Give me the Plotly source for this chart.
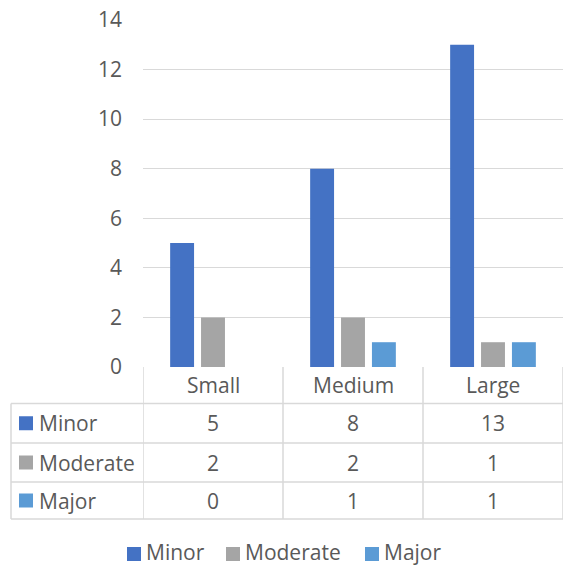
import plotly.graph_objects as go

categories = ["Small", "Medium", "Large"]
series_names = ["Minor", "Moderate", "Major"]
minor = [5, 8, 13]
moderate = [2, 2, 1]
major = [0, 1, 1]
colors = ["#4472C4", "#A5A5A5", "#5B9BD5"]
y_ticks = [0, 2, 4, 6, 8, 10, 12, 14]

series_values = [minor, moderate, major]

W, H = 563, 567
L, R, T, B = 143, 0, 20, 200
PW, PH = W - L - R, H - T - B
FONT = "Open Sans"
TXT = "#595959"
GRID = "#D9D9D9"
FS = 21


def px(x):
    return (x - L) / PW


def py(y):
    return (H - B - y) / PH


fig = go.Figure()
for name, vals, col in zip(series_names, series_values, colors):
    fig.add_trace(go.Bar(x=categories, y=vals, name=name, showlegend=False,
                         marker=dict(color=col, line=dict(width=0))))

# table geometry (pixels)
row_bounds = [367, 403.5, 443, 482, 519]
table_left = 11
col_edges = [-0.5, 0.5, 1.5, 2.5]

shapes = []
line = dict(color=GRID, width=1.5)
for i, yb in enumerate(row_bounds):
    if i == 0:
        continue
    shapes.append(dict(type="line", xref="paper", yref="paper", x0=px(table_left), x1=1.01,
                       y0=py(yb), y1=py(yb), line=line))
shapes.append(dict(type="line", xref="paper", yref="paper", x0=px(table_left), x1=px(table_left),
                   y0=py(row_bounds[1]), y1=py(row_bounds[-1]), line=line))
for ce in col_edges:
    shapes.append(dict(type="line", xref="x", yref="paper", x0=ce, x1=ce,
                       y0=py(row_bounds[0]), y1=py(row_bounds[-1]), line=line))

annotations = []
hdr_y = py((row_bounds[0] + row_bounds[1]) / 2)
for i, c in enumerate(categories):
    annotations.append(dict(x=i, y=hdr_y, xref="x", yref="paper", text=c, showarrow=False,
                            font=dict(family=FONT, size=FS, color=TXT), xanchor="center", yanchor="middle"))

for r, (name, vals, col) in enumerate(zip(series_names, series_values, colors)):
    yc_px = (row_bounds[r + 1] + row_bounds[r + 2]) / 2
    yc = py(yc_px)
    shapes.append(dict(type="rect", xref="paper", yref="paper", x0=px(19), x1=px(33),
                       y0=py(yc_px + 7), y1=py(yc_px - 7), fillcolor=col, line=dict(width=0)))
    annotations.append(dict(x=px(37), y=yc, xref="paper", yref="paper", text=name, showarrow=False,
                            font=dict(family=FONT, size=FS, color=TXT), xanchor="left", yanchor="middle"))
    for i, v in enumerate(vals):
        annotations.append(dict(x=i, y=yc, xref="x", yref="paper", text=str(v), showarrow=False,
                                font=dict(family=FONT, size=FS, color=TXT), xanchor="center", yanchor="middle"))

# bottom legend (custom, to match spacing)
legend_sq_x = [127, 226, 365]
legend_y = 554
for name, col, sx in zip(series_names, colors, legend_sq_x):
    shapes.append(dict(type="rect", xref="paper", yref="paper", x0=px(sx), x1=px(sx + 14),
                       y0=py(legend_y + 7), y1=py(legend_y - 7), fillcolor=col, line=dict(width=0)))
    annotations.append(dict(x=px(sx + 17), y=py(legend_y - 2), xref="paper", yref="paper", text=name,
                            showarrow=False, font=dict(family=FONT, size=FS, color=TXT),
                            xanchor="left", yanchor="middle"))

fig.update_layout(
    width=W, height=H,
    margin=dict(l=L, r=R, t=T, b=B, pad=0, autoexpand=False),
    paper_bgcolor="white", plot_bgcolor="white",
    barmode="group", bargap=0.338, bargroupgap=0.226,
    font=dict(family=FONT, size=FS, color=TXT),
    showlegend=False,
    xaxis=dict(range=[-0.5, 2.5], showticklabels=False, showgrid=False, zeroline=False,
               showline=False, ticks="", fixedrange=True),
    yaxis=dict(range=[0, 14], tickvals=y_ticks, showgrid=True, gridcolor=GRID, gridwidth=1.2,
               zeroline=False, showline=False, ticks="", ticklabelstandoff=20,
               tickfont=dict(family=FONT, size=FS, color=TXT), fixedrange=True),
    shapes=shapes,
    annotations=annotations,
)

fig.write_html("out.html")
